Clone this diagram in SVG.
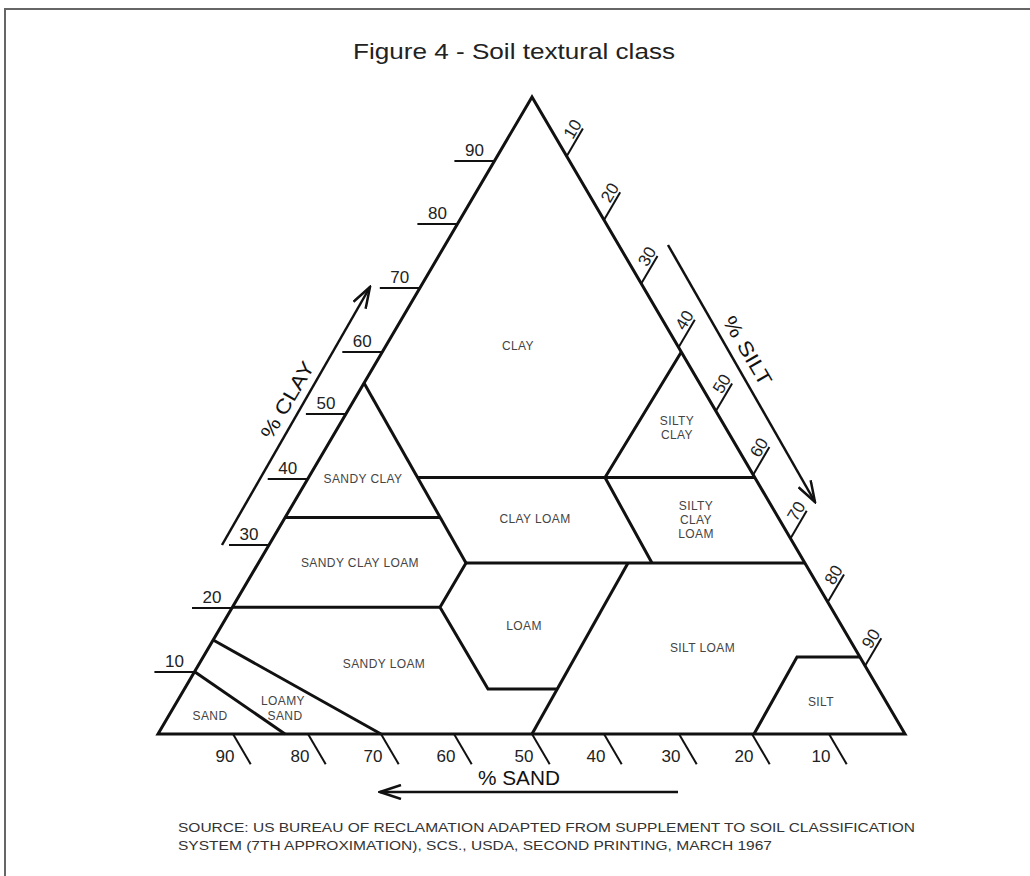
<svg xmlns="http://www.w3.org/2000/svg" width="1030" height="876" viewBox="0 0 1030 876">
<style>
  .frame{stroke:#666;stroke-width:2;fill:none}
  .title{font-family:"Liberation Sans",Arial,sans-serif;font-size:22px;fill:#222}
  .edge{stroke:#111;stroke-width:3;fill:none;stroke-linejoin:miter}
  .bnd{stroke:#111;stroke-width:3;fill:none;stroke-linejoin:miter}
  .tick{stroke:#111;stroke-width:2;fill:none}
  .num{font-family:"Liberation Sans",Arial,sans-serif;font-size:17px;fill:#222;text-anchor:middle}
  .reg{font-family:"Liberation Sans",Arial,sans-serif;font-size:12px;fill:#444;text-anchor:middle;letter-spacing:0.4px}
  .axis{font-family:"Liberation Sans",Arial,sans-serif;font-size:20px;fill:#111;text-anchor:middle}
  .arr{stroke:#111;stroke-width:2.5;fill:none}
  .src{font-family:"Liberation Sans",Arial,sans-serif;font-size:13px;fill:#333}
</style>
<defs>
  <marker id="chev" viewBox="0 0 24 16" refX="22" refY="8" markerWidth="24" markerHeight="16" markerUnits="userSpaceOnUse" orient="auto">
    <path d="M1,1 L22,8 L1,15" fill="none" stroke="#111" stroke-width="2.5"/>
  </marker>
</defs>
<rect x="0" y="0" width="1030" height="876" fill="#fff"/>
<g id="frame">
  <path class="frame" d="M5,876 L5,9 L1030,9"/>
</g>
<g id="title">
  <text class="title" x="514" y="59" text-anchor="middle" textLength="322" lengthAdjust="spacingAndGlyphs">Figure 4 - Soil textural class</text>
</g>
<g id="connectors">
  <polygon id="triangle" class="edge" points="532,97 158,734 905,734"/>
  <g id="boundaries">
    <polyline class="bnd" points="364,383 466,563"/>
    <line class="bnd" x1="417.6" y1="477.5" x2="754.8" y2="477.5"/>
    <line class="bnd" x1="285.1" y1="517.5" x2="440.2" y2="517.5"/>
    <line class="bnd" x1="466" y1="563" x2="804.9" y2="563"/>
    <line class="bnd" x1="232.4" y1="607.3" x2="440" y2="607.3"/>
    <polyline class="bnd" points="466,563 440,607.3 488,689 557.3,689"/>
    <line class="bnd" x1="628" y1="563" x2="532" y2="734"/>
    <polyline class="bnd" points="681.3,352 605,477.5 652,563"/>
    <polyline class="bnd" points="754,734 797,657 859.9,657"/>
    <line class="bnd" x1="195" y1="672" x2="285" y2="734"/>
    <line class="bnd" x1="213.2" y1="640" x2="381" y2="734"/>
  </g>
  <g id="clay-ticks">
    <line class="tick" x1="154.4" y1="672" x2="194.4" y2="672"/>
    <line class="tick" x1="192" y1="608" x2="232" y2="608"/>
    <line class="tick" x1="229" y1="545" x2="269" y2="545"/>
    <line class="tick" x1="267.7" y1="479" x2="307.7" y2="479"/>
    <line class="tick" x1="305.9" y1="414" x2="345.9" y2="414"/>
    <line class="tick" x1="342.3" y1="352" x2="382.3" y2="352"/>
    <line class="tick" x1="379.8" y1="288" x2="419.8" y2="288"/>
    <line class="tick" x1="417.4" y1="224" x2="457.4" y2="224"/>
    <line class="tick" x1="454.4" y1="161" x2="494.4" y2="161"/>
  </g>
  <g id="silt-ticks">
    <line class="tick" x1="566.7" y1="156.2" x2="582.9" y2="128.6"/>
    <line class="tick" x1="604.0" y1="219.9" x2="620.2" y2="192.3"/>
    <line class="tick" x1="641.3" y1="283.6" x2="657.5" y2="256.0"/>
    <line class="tick" x1="678.6" y1="347.3" x2="694.8" y2="319.7"/>
    <line class="tick" x1="715.9" y1="411.0" x2="732.1" y2="383.4"/>
    <line class="tick" x1="753.2" y1="474.7" x2="769.4" y2="447.1"/>
    <line class="tick" x1="790.5" y1="538.4" x2="806.7" y2="510.8"/>
    <line class="tick" x1="827.8" y1="602.1" x2="844.0" y2="574.5"/>
    <line class="tick" x1="865.1" y1="665.8" x2="881.3" y2="638.2"/>
  </g>
  <g id="sand-ticks">
    <line class="tick" x1="233" y1="734" x2="250.7" y2="764.2"/>
    <line class="tick" x1="308" y1="734" x2="325.7" y2="764.2"/>
    <line class="tick" x1="381" y1="734" x2="398.7" y2="764.2"/>
    <line class="tick" x1="454" y1="734" x2="471.7" y2="764.2"/>
    <line class="tick" x1="532" y1="734" x2="549.7" y2="764.2"/>
    <line class="tick" x1="604" y1="734" x2="621.7" y2="764.2"/>
    <line class="tick" x1="679" y1="734" x2="696.7" y2="764.2"/>
    <line class="tick" x1="752" y1="734" x2="769.7" y2="764.2"/>
    <line class="tick" x1="829" y1="734" x2="846.7" y2="764.2"/>
  </g>
  <g id="axis-arrows">
    <line class="arr" x1="222" y1="545" x2="370" y2="287" marker-end="url(#chev)"/>
    <line class="arr" x1="668" y1="245" x2="815" y2="502" marker-end="url(#chev)"/>
    <line class="arr" x1="678" y1="792" x2="380" y2="792" marker-end="url(#chev)"/>
  </g>
</g>
<g id="clay-labels">
  <text class="num" x="174.4" y="667">10</text>
  <text class="num" x="212" y="603">20</text>
  <text class="num" x="249" y="540">30</text>
  <text class="num" x="287.7" y="474">40</text>
  <text class="num" x="325.9" y="409">50</text>
  <text class="num" x="362.3" y="347">60</text>
  <text class="num" x="399.8" y="283">70</text>
  <text class="num" x="437.4" y="219">80</text>
  <text class="num" x="474.4" y="156">90</text>
</g>
<g id="silt-labels">
  <text class="num" x="577.5" y="131.9" transform="rotate(-59.6 577.5 131.9)">10</text>
  <text class="num" x="614.8" y="195.6" transform="rotate(-59.6 614.8 195.6)">20</text>
  <text class="num" x="652.1" y="259.3" transform="rotate(-59.6 652.1 259.3)">30</text>
  <text class="num" x="689.4" y="323.0" transform="rotate(-59.6 689.4 323.0)">40</text>
  <text class="num" x="726.7" y="386.7" transform="rotate(-59.6 726.7 386.7)">50</text>
  <text class="num" x="764.0" y="450.4" transform="rotate(-59.6 764.0 450.4)">60</text>
  <text class="num" x="801.3" y="514.1" transform="rotate(-59.6 801.3 514.1)">70</text>
  <text class="num" x="838.6" y="577.8" transform="rotate(-59.6 838.6 577.8)">80</text>
  <text class="num" x="875.9" y="641.5" transform="rotate(-59.6 875.9 641.5)">90</text>
</g>
<g id="sand-labels">
  <text class="num" x="225" y="761.5">90</text>
  <text class="num" x="300" y="761.5">80</text>
  <text class="num" x="373" y="761.5">70</text>
  <text class="num" x="446" y="761.5">60</text>
  <text class="num" x="524" y="761.5">50</text>
  <text class="num" x="596" y="761.5">40</text>
  <text class="num" x="671" y="761.5">30</text>
  <text class="num" x="744" y="761.5">20</text>
  <text class="num" x="821" y="761.5">10</text>
</g>
<g id="axis-titles">
  <text class="axis" x="293.3" y="403.5" transform="rotate(-59.6 293.3 403.5)" textLength="86" lengthAdjust="spacingAndGlyphs">% CLAY</text>
  <text class="axis" x="741.5" y="354.3" transform="rotate(59.6 741.5 354.3)" textLength="77" lengthAdjust="spacingAndGlyphs">% SILT</text>
  <text class="axis" x="519" y="785" textLength="82" lengthAdjust="spacingAndGlyphs">% SAND</text>
</g>
<g id="region-clay"><text class="reg" x="518" y="350">CLAY</text></g>
<g id="region-silty-clay"><text class="reg" x="677" y="424.5">SILTY</text><text class="reg" x="677" y="438.5">CLAY</text></g>
<g id="region-sandy-clay"><text class="reg" x="363" y="483">SANDY CLAY</text></g>
<g id="region-clay-loam"><text class="reg" x="535" y="522.5">CLAY LOAM</text></g>
<g id="region-silty-clay-loam"><text class="reg" x="696" y="510">SILTY</text><text class="reg" x="696" y="524">CLAY</text><text class="reg" x="696" y="537.5">LOAM</text></g>
<g id="region-sandy-clay-loam"><text class="reg" x="360" y="567">SANDY CLAY LOAM</text></g>
<g id="region-loam"><text class="reg" x="524" y="630">LOAM</text></g>
<g id="region-silt-loam"><text class="reg" x="702.5" y="651.5">SILT LOAM</text></g>
<g id="region-sandy-loam"><text class="reg" x="384" y="668">SANDY LOAM</text></g>
<g id="region-loamy-sand"><text class="reg" x="283" y="705">LOAMY</text><text class="reg" x="285" y="720">SAND</text></g>
<g id="region-sand"><text class="reg" x="210" y="720">SAND</text></g>
<g id="region-silt"><text class="reg" x="821" y="706">SILT</text></g>
<g id="source">
  <text class="src" x="178" y="832" textLength="737" lengthAdjust="spacingAndGlyphs">SOURCE: US BUREAU OF RECLAMATION ADAPTED FROM SUPPLEMENT TO SOIL CLASSIFICATION</text>
  <text class="src" x="178" y="850" textLength="594" lengthAdjust="spacingAndGlyphs">SYSTEM (7TH APPROXIMATION), SCS., USDA, SECOND PRINTING, MARCH 1967</text>
</g>
</svg>
